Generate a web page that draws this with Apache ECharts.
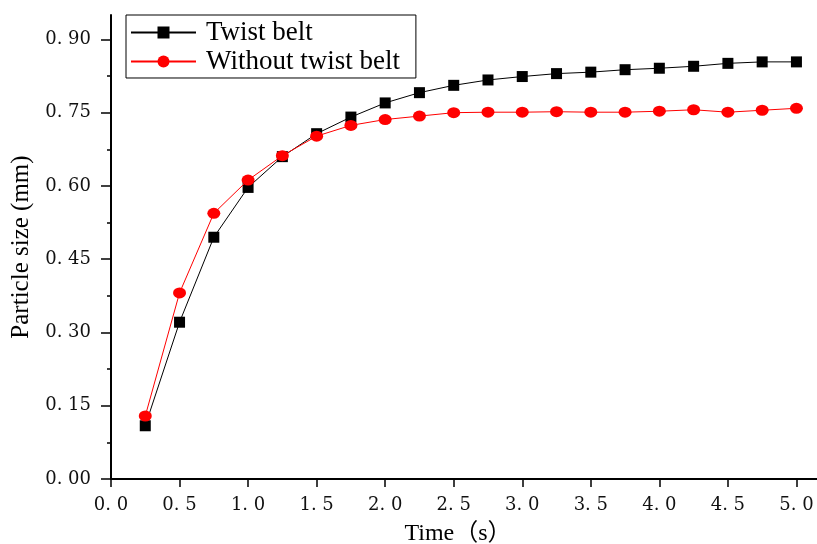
<!DOCTYPE html>
<html>
<head>
<meta charset="utf-8">
<script src="https://cdn.jsdelivr.net/npm/echarts@6/dist/echarts.min.js"></script>
<style>
  html, body { margin: 0; padding: 0; background: #fff; }
  #chart { width: 817px; height: 544px; }
</style>
</head>
<body>
<div id="chart"></div>
<script>
// Sampling times (s)
const timeS = [0.25, 0.5, 0.75, 1.0, 1.25, 1.5, 1.75, 2.0, 2.25, 2.5,
               2.75, 3.0, 3.25, 3.5, 3.75, 4.0, 4.25, 4.5, 4.75, 5.0];
// Particle size (mm) with the twist belt
const twistBelt = [0.109, 0.321, 0.495, 0.597, 0.660, 0.707, 0.741, 0.770, 0.791, 0.806,
                   0.817, 0.824, 0.830, 0.833, 0.838, 0.841, 0.845, 0.851, 0.854, 0.854];
// Particle size (mm) without the twist belt
const withoutTwistBelt = [0.129, 0.381, 0.544, 0.612, 0.662, 0.702, 0.724, 0.736, 0.743, 0.750,
                          0.751, 0.751, 0.752, 0.751, 0.751, 0.753, 0.756, 0.751, 0.755, 0.759];

const seriesNames = ['Twist belt', 'Without twist belt'];
const yTickValues = [0, 0.15, 0.30, 0.45, 0.60, 0.75, 0.90];
const yMinorTickValues = [0.075, 0.225, 0.375, 0.525, 0.675, 0.825];
const xTickValues = [0, 0.5, 1.0, 1.5, 2.0, 2.5, 3.0, 3.5, 4.0, 4.5, 5.0];

const pairs = (xs, ys) => xs.map((x, i) => [x, ys[i]]);
const tickFont = 'DejaVu Serif';
const titleFont = '"Liberation Serif", "Times New Roman", "Noto Sans CJK SC", serif';

const chart = echarts.init(document.getElementById('chart'), null, { renderer: 'canvas' });
chart.setOption({
  animation: false,
  backgroundColor: '#ffffff',
  grid: { left: 111, right: 0, top: 15, bottom: 65, containLabel: false, outerBoundsMode: 'none' },
  legend: {
    orient: 'vertical',
    left: 126,
    top: 15,
    data: seriesNames,
    itemWidth: 65,
    itemHeight: 15,
    itemGap: 2,
    padding: [4, 16, 3, 4],
    borderColor: '#000',
    borderWidth: 1,
    borderRadius: 0,
    textStyle: { fontFamily: titleFont, fontSize: 27, color: '#000', padding: [0, 0, 0, 5] }
  },
  xAxis: {
    type: 'value',
    min: 0,
    max: 5.15,
    name: 'Time（s）',
    nameLocation: 'middle',
    nameGap: 43,
    nameTextStyle: { fontFamily: titleFont, fontSize: 24, color: '#000', padding: [0, 12, 0, 0] },
    axisLine: { show: true, lineStyle: { color: '#000', width: 2 } },
    axisTick: { show: true, inside: false, length: 8, customValues: xTickValues,
                lineStyle: { color: '#000', width: 1.5 } },
    axisLabel: {
      customValues: xTickValues,
      margin: 17,
      fontFamily: tickFont, fontSize: 18, color: '#111',
      formatter: v => v.toFixed(1).replace('.', '. ')
    },
    splitLine: { show: false }
  },
  yAxis: [
    {
      type: 'value',
      min: 0,
      max: 0.95,
      name: 'Particle size (mm)',
      nameLocation: 'middle',
      nameGap: 69,
      nameTextStyle: { fontFamily: titleFont, fontSize: 25, color: '#000' },
      axisLine: { show: true, lineStyle: { color: '#000', width: 2 } },
      axisTick: { show: true, inside: false, length: 10, customValues: yTickValues,
                  lineStyle: { color: '#000', width: 1.5 } },
      axisLabel: {
        customValues: yTickValues,
        margin: 20,
        fontFamily: tickFont, fontSize: 18, color: '#111',
        formatter: v => v.toFixed(2).replace('.', '. ')
      },
      splitLine: { show: false }
    },
    {
      // short ticks halfway between the labelled ones
      type: 'value',
      min: 0,
      max: 0.95,
      position: 'left',
      axisLine: { show: false },
      axisTick: { show: true, inside: false, length: 4, customValues: yMinorTickValues,
                  lineStyle: { color: '#000', width: 1.5 } },
      axisLabel: { show: false, customValues: yMinorTickValues },
      splitLine: { show: false }
    }
  ],
  series: [
    {
      name: seriesNames[0],
      type: 'line',
      data: pairs(timeS, twistBelt),
      symbol: 'rect',
      symbolSize: 11,
      color: '#000',
      itemStyle: { color: '#000' },
      lineStyle: { color: '#000', width: 1 },
      z: 2
    },
    {
      name: seriesNames[1],
      type: 'line',
      data: pairs(timeS, withoutTwistBelt),
      symbol: 'circle',
      symbolSize: [13, 11],
      color: '#ff0000',
      itemStyle: { color: '#ff0000' },
      lineStyle: { color: '#ff0000', width: 1 },
      z: 3
    }
  ]
});
</script>
</body>
</html>
